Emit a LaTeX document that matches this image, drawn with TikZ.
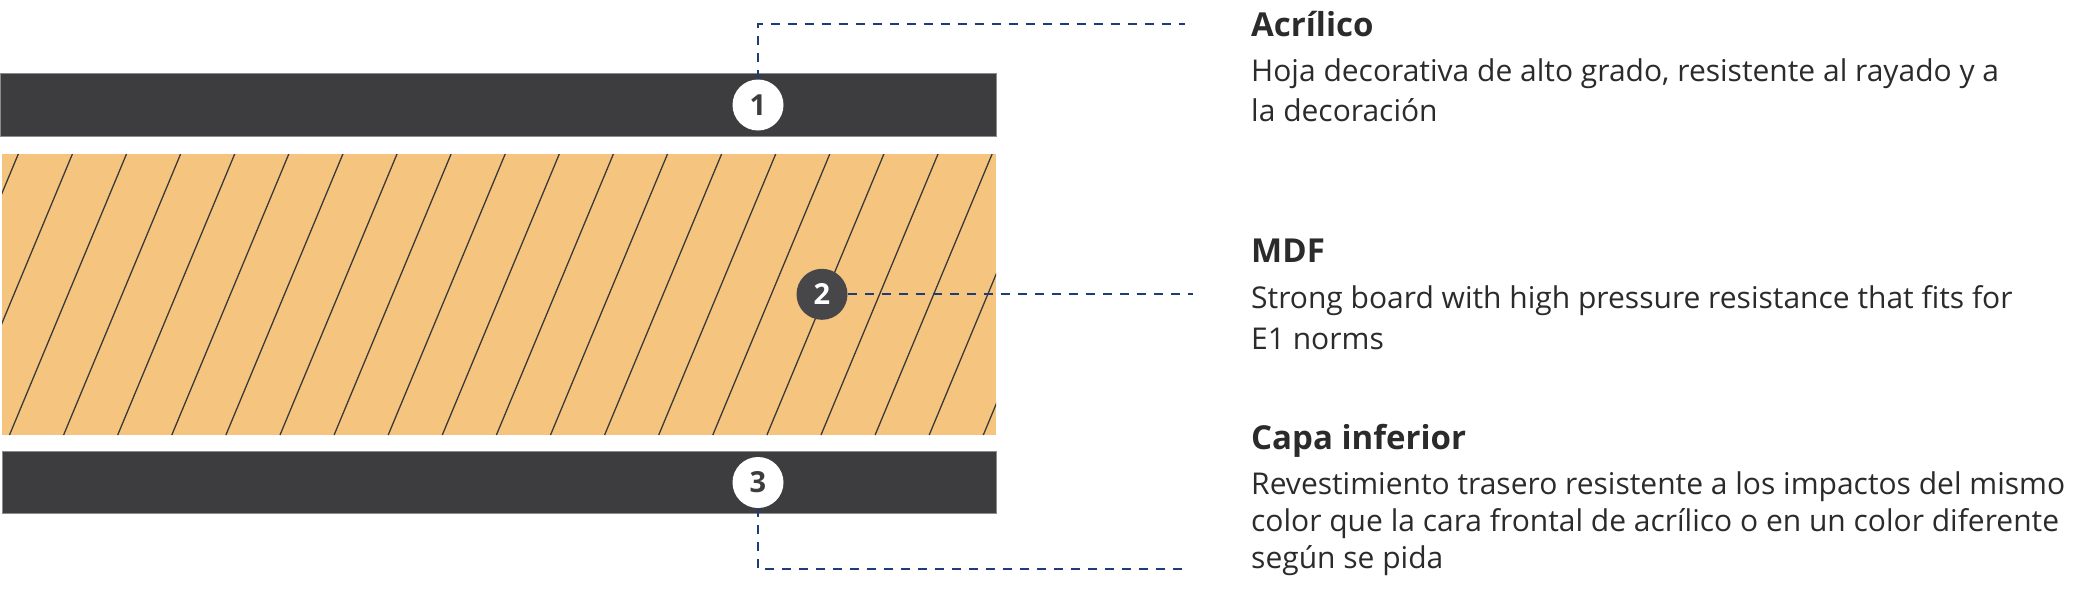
\documentclass[tikz,border=0pt]{standalone}
\usepackage{fontspec}
\setmainfont{Open Sans}
\definecolor{barc}{HTML}{3D3D3F}
\definecolor{wood}{HTML}{F5C580}
\definecolor{navy}{HTML}{1F3B78}
\definecolor{txt}{HTML}{2B2B2B}
\definecolor{hatchc}{HTML}{3A3A3A}
\tikzset{
  barfill/.style={fill=barc, draw=barc!60!white, line width=1},
  hatchline/.style={draw=hatchc, line width=1.3},
  numw/.style={circle, fill=white, text=barc, minimum size=51, inner sep=0,
    font=\bfseries\fontsize{29}{29}\selectfont},
  numd/.style={circle, fill=barc!95!white, text=white, minimum size=51, inner sep=0,
    font=\bfseries\fontsize{29}{29}\selectfont},
  lead/.style={draw=navy, line width=2, dash pattern=on 9 off 8},
  head/.style={anchor=base west, inner sep=0, text=txt, font=\bfseries\fontsize{33}{33}\selectfont},
  body/.style={anchor=base west, inner sep=0, text=txt, font=\fontsize{30}{30}\selectfont}
}
\begin{document}
\begin{tikzpicture}[x=1pt,y=-1pt]
\useasboundingbox (0,0) rectangle (2078,589);
% layers
\path[barfill] (0,73.5) rectangle (996,136);
\fill[wood] (2,154) rectangle (996,435);
\begin{scope}
  \clip (2,154) rectangle (996,435);
  \foreach \k in {-1,...,20}
    \draw[hatchline] ({18.3+54.1*\k},154) -- ({18.3+54.1*\k-117},435);
\end{scope}
\path[barfill] (2,451) rectangle (996,513);
% markers
\node[numw] (c1) at (758,105) {1};
\node[numd] (c2) at (822,294.3) {2};
\node[numw] (c3) at (758,482.5) {3};
% leader ends
\coordinate (e1) at (1185,24);
\coordinate (e2) at (1193,294.3);
\coordinate (e3) at (1186,569);
\draw[lead] (c1.north) |- (e1);
\draw[lead] (c2.east) -- (e2);
\draw[lead] (c3.south) |- (e3);
% texts
\node[head] (h1) at (1251,36) {Acrílico};
\node[body] (b1a) at (1251,81.7) {Hoja decorativa de alto grado, resistente al rayado y a};
\node[body] (b1b) at (1251,121) {la decoración};
\node[head] (h2) at (1251,262.7) {MDF};
\node[body] (b2a) at (1251,308.3) {Strong board with high pressure resistance that fits for};
\node[body] (b2b) at (1251,349) {E1 norms};
\node[head] (h3) at (1251,449) {Capa inferior};
\node[body] (b3a) at (1251,494) {Revestimiento trasero resistente a los impactos del mismo};
\node[body] (b3b) at (1251,531.5) {color que la cara frontal de acrílico o en un color diferente};
\node[body] (b3c) at (1251,568.5) {según se pida};
\end{tikzpicture}
\end{document}
